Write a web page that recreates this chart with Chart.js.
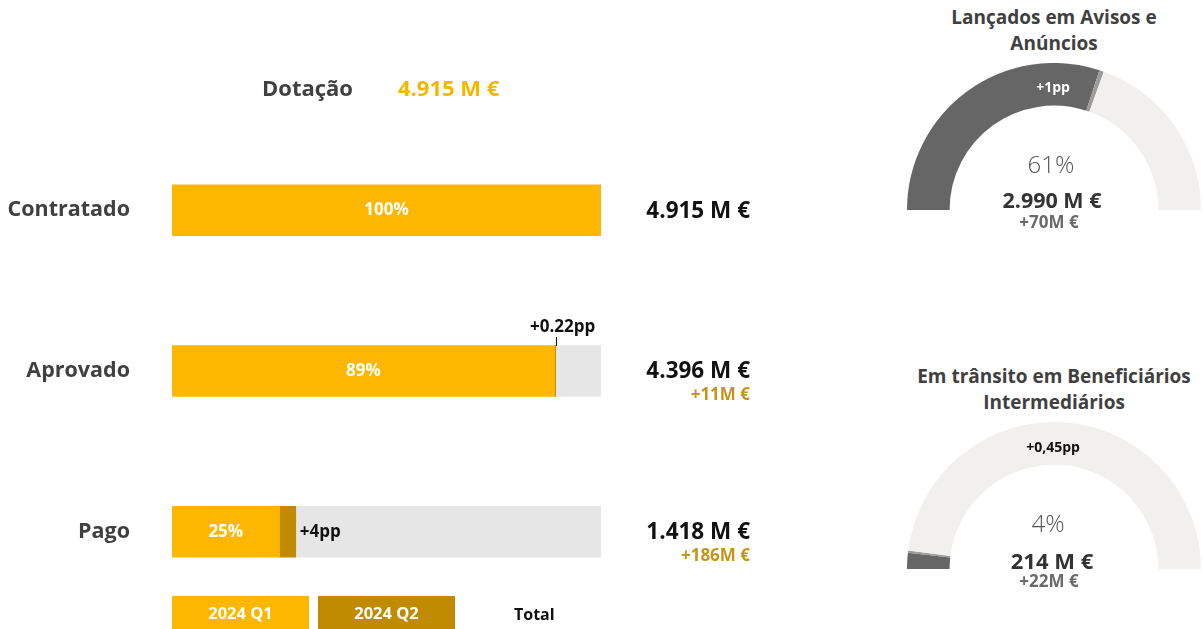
<!DOCTYPE html>
<html><head><meta charset="utf-8">
<script src="https://cdn.jsdelivr.net/npm/chart.js@4.4.1/dist/chart.umd.min.js"></script>
<style>
html,body{margin:0;padding:0;background:#fff;width:1203px;height:629px;overflow:hidden;font-family:'Open Sans',sans-serif;}
.t{position:absolute;white-space:nowrap;line-height:1;z-index:2;}
.box{position:absolute;top:596px;width:137px;height:40px;z-index:1;}
#barWrap{position:absolute;left:0;top:75px;width:770px;height:592px;}
#g1Wrap{position:absolute;left:907px;top:63px;width:294px;height:147px;}
#g2Wrap{position:absolute;left:907px;top:422px;width:294px;height:147px;}
</style></head><body>
<div id="barWrap"><canvas id="bars" width="770" height="592"></canvas></div>
<div id="g1Wrap"><canvas id="g1" width="294" height="147"></canvas></div>
<div id="g2Wrap"><canvas id="g2" width="294" height="147"></canvas></div>
<div class="box" style="left:172px;background:#FDB700"></div>
<div class="box" style="left:318px;background:#C08B00"></div>
<script>
// ---- data ----
const categories = ['Contratado', 'Aprovado', 'Pago'];
const q1Values = [100, 89.22, 25.07];
const q2Values = [0, 0.22, 3.78];
const pctLabels = ['100%', '89%', '25%'];
const deltaLabels = [null, '+0.22pp', '+4pp'];
const totalLabels = ['4.915 M €', '4.396 M €', '1.418 M €'];
const totalDeltaLabels = [null, '+11M €', '+186M €'];
const legendLabels = ['2024 Q1', '2024 Q2', 'Total'];
const dotacaoLabel = 'Dotação';
const dotacaoValue = '4.915 M €';

const gauge1Title = ['Lançados em Avisos e', 'Anúncios'];
const gauge1Values = [60, 1];          // base, delta (pp)
const gauge1Texts = ['61%', '2.990 M €', '+70M €', '+1pp'];
const gauge2Title = ['Em trânsito em Beneficiários', 'Intermediários'];
const gauge2Values = [3.55, 0.45];
const gauge2Texts = ['4%', '214 M €', '+22M €', '+0,45pp'];

const FONT = "'Open Sans', sans-serif";
Chart.defaults.font.family = FONT;

function txt(s, x, yc, size, weight, color, align) {
  const d = document.createElement('div');
  d.className = 't';
  d.textContent = s;
  d.style.fontSize = size + 'px';
  d.style.fontWeight = weight;
  d.style.color = color;
  d.style.top = (yc - 0.53 * size) + 'px';
  if (align === 'center') { d.style.left = (x - 200) + 'px'; d.style.width = '400px'; d.style.textAlign = 'center'; }
  else if (align === 'right') { d.style.left = (x - 400) + 'px'; d.style.width = '400px'; d.style.textAlign = 'right'; }
  else { d.style.left = x + 'px'; }
  document.body.appendChild(d);
}

// headline
txt(dotacaoLabel, 262, 88, 22, 700, '#404040', 'left');
txt(dotacaoValue, 398, 88, 22, 700, '#F5B700', 'left');
// legend
txt(legendLabels[0], 240.5, 614, 16.5, 700, '#ffffff', 'center');
txt(legendLabels[1], 386.5, 614, 16.5, 700, '#ffffff', 'center');
txt(legendLabels[2], 514, 614, 16, 700, '#111111', 'left');
// gauge titles/texts
txt(gauge1Title[0], 1054, 18, 19, 700, '#404040', 'center');
txt(gauge1Title[1], 1054, 44, 19, 700, '#404040', 'center');
txt(gauge1Texts[0], 1051, 165, 24, 300, '#555555', 'center');
txt(gauge1Texts[1], 1052, 200.5, 21.5, 700, '#333333', 'center');
txt(gauge1Texts[2], 1049, 222, 17, 700, '#6a6a6a', 'center');
txt(gauge2Title[0], 1054, 377, 19, 700, '#404040', 'center');
txt(gauge2Title[1], 1054, 403, 19, 700, '#404040', 'center');
txt(gauge2Texts[0], 1048, 524, 24, 300, '#555555', 'center');
txt(gauge2Texts[1], 1052, 560.5, 22, 700, '#333333', 'center');
txt(gauge2Texts[2], 1049, 581.5, 17, 700, '#6a6a6a', 'center');

const rest = q1Values.map((v, i) => Math.max(0, 100 - v - q2Values[i]));

const barLabels = {
  id: 'barLabels',
  afterDatasetsDraw(chart) {
    const ctx = chart.ctx;
    const m1 = chart.getDatasetMeta(0).data;
    const m2 = chart.getDatasetMeta(1).data;
    const right = chart.chartArea.right;
    ctx.save();
    ctx.textBaseline = 'middle';
    categories.forEach((c, i) => {
      const b = m1[i];
      ctx.fillStyle = '#ffffff';
      ctx.font = 'bold 17px ' + FONT;
      ctx.textAlign = 'center';
      ctx.fillText(pctLabels[i], (b.base + b.x) / 2, b.y);
      const d = m2[i];
      if (deltaLabels[i]) {
        ctx.fillStyle = '#111111';
        if (i === 1) {
          ctx.strokeStyle = '#111111';
          ctx.lineWidth = 1;
          ctx.beginPath();
          ctx.moveTo(Math.round(d.x) + 0.5, d.y - 34);
          ctx.lineTo(Math.round(d.x) + 0.5, d.y - 25);
          ctx.stroke();
          ctx.font = 'bold 17px ' + FONT;
          ctx.textAlign = 'center';
          ctx.fillText(deltaLabels[i], d.x + 7, d.y - 44);
        } else {
          ctx.font = 'bold 17px ' + FONT;
          ctx.textAlign = 'left';
          ctx.fillText(deltaLabels[i], d.x + 4, d.y);
        }
      }
      ctx.textAlign = 'right';
      ctx.fillStyle = '#111111';
      ctx.font = 'bold 22.5px ' + FONT;
      ctx.fillText(totalLabels[i], right + 149, b.y + 1);
      if (totalDeltaLabels[i]) {
        ctx.font = 'bold 17px ' + FONT;
        ctx.fillStyle = '#C4951B';
        ctx.fillText(totalDeltaLabels[i], right + 149, b.y + 24);
      }
    });
    ctx.restore();
  }
};

new Chart(document.getElementById('bars'), {
  type: 'bar',
  data: {
    labels: categories,
    datasets: [
      { label: legendLabels[0], data: q1Values, backgroundColor: '#FDB700', barThickness: 51, borderWidth: 0 },
      { label: legendLabels[1], data: q2Values, backgroundColor: '#C08B00', barThickness: 51, borderWidth: 0 },
      { label: legendLabels[2], data: rest, backgroundColor: '#E6E6E6', barThickness: 51, borderWidth: 0 }
    ]
  },
  options: {
    indexAxis: 'y',
    responsive: false,
    animation: false,
    layout: { padding: { top: 9, bottom: 8, left: 0, right: 169 } },
    scales: {
      x: { stacked: true, min: 0, max: 100, display: false },
      y: {
        stacked: true,
        grid: { display: false, drawTicks: false },
        border: { display: false },
        ticks: { padding: 42, color: '#404040', font: { size: 21.5, weight: 'bold' } },
        afterFit(s) { s.width = 172; }
      }
    },
    plugins: { legend: { display: false }, tooltip: { enabled: false } }
  },
  plugins: [barLabels]
});

function gaugeLabel(text, color, dy) {
  return {
    id: 'gl',
    afterDatasetsDraw(chart) {
      const a = chart.getDatasetMeta(0).data[0];
      const ctx = chart.ctx;
      ctx.save();
      ctx.font = 'bold 14px ' + FONT;
      ctx.fillStyle = color;
      ctx.textAlign = 'center';
      ctx.textBaseline = 'middle';
      ctx.fillText(text, a.x - 1, a.y - (a.innerRadius + a.outerRadius) / 2 + dy);
      ctx.restore();
    }
  };
}

function gauge(id, vals, label, labelColor, dy) {
  new Chart(document.getElementById(id), {
    type: 'doughnut',
    data: { datasets: [{ data: [vals[0], vals[1], 100 - vals[0] - vals[1]], backgroundColor: ['#666666', '#9c9c9c', '#F1F0EE'], borderWidth: 0 }] },
    options: {
      responsive: false, animation: false,
      rotation: -90, circumference: 180, cutout: '71%',
      layout: { padding: 0 },
      plugins: { legend: { display: false }, tooltip: { enabled: false } }
    },
    plugins: [gaugeLabel(label, labelColor, dy)]
  });
}
gauge('g1', gauge1Values, gauge1Texts[3], '#ffffff', 4);
gauge('g2', gauge2Values, gauge2Texts[3], '#111111', 5);
</script>
</body></html>
